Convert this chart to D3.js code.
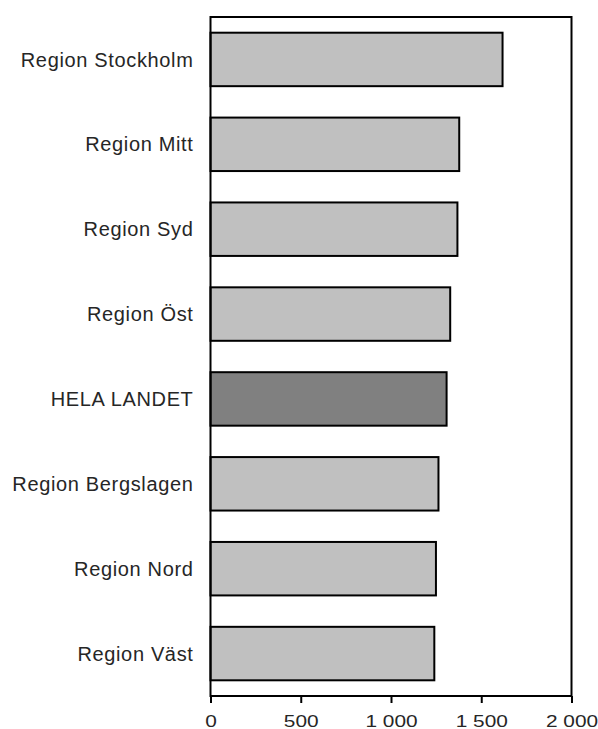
<!DOCTYPE html>
<html><head><meta charset="utf-8">
<script src="https://cdn.jsdelivr.net/npm/d3@7"></script>
<style>body{margin:0;background:#fff}svg{display:block}text{font-family:"Liberation Sans",Arial,sans-serif}</style>
</head><body>
<script>
const categories = ["Region Stockholm","Region Mitt","Region Syd","Region Öst","HELA LANDET","Region Bergslagen","Region Nord","Region Väst"];
const values = [1618, 1378, 1368, 1328, 1308, 1263, 1249, 1240];
const highlight = ["HELA LANDET"];
const ticks = [0, 500, 1000, 1500, 2000];

const W = 598, H = 729;
const m = {left: 210.5, right: 571.5, top: 17, bottom: 696};
const svg = d3.select("body").append("svg").attr("width", W).attr("height", H);
const x = d3.scaleLinear().domain([0, 2000]).range([m.left, m.right]);
const y = d3.scaleBand().domain(categories).range([m.top, m.bottom]).paddingInner(0.37).paddingOuter(0.185);

svg.append("g").selectAll("rect").data(categories).join("rect")
  .attr("x", x(0)).attr("y", d => y(d))
  .attr("width", (d,i) => x(values[i]) - x(0)).attr("height", y.bandwidth())
  .attr("fill", d => highlight.includes(d) ? "#808080" : "#c0c0c0")
  .attr("stroke", "#000").attr("stroke-width", 2);

svg.append("rect").attr("x", m.left).attr("y", m.top)
  .attr("width", m.right - m.left).attr("height", m.bottom - m.top)
  .attr("fill", "none").attr("stroke", "#000").attr("stroke-width", 2);

const fs = 20;
svg.append("g").selectAll("text").data(categories).join("text")
  .attr("x", 193.5).attr("y", d => y(d) + y.bandwidth()/2 + 0.716*fs/2)
  .attr("text-anchor", "end")
  .attr("font-size", fs).attr("letter-spacing", "0.65px").attr("fill", "#262626").text(d => d);

const fmt = v => d3.format(",")(v).replace(/,/g, " ");
const xa = svg.append("g").attr("transform", `translate(0,${m.bottom})`)
  .call(d3.axisBottom(x).tickValues(ticks).tickSize(7).tickFormat(fmt));
xa.select(".domain").remove();
xa.selectAll("line").attr("stroke", "#000").attr("stroke-width", 2);
xa.selectAll(".tick text").each(function(d) {
  const t = d3.select(this);
  t.attr("y", null).attr("dy", null)
   .attr("transform", "translate(0,31) scale(1.28,1)")
   .attr("font-size", 16.3).attr("fill", "#262626")
   .style("font-family", '"Liberation Sans",Arial,sans-serif');
});
</script>
</body></html>
